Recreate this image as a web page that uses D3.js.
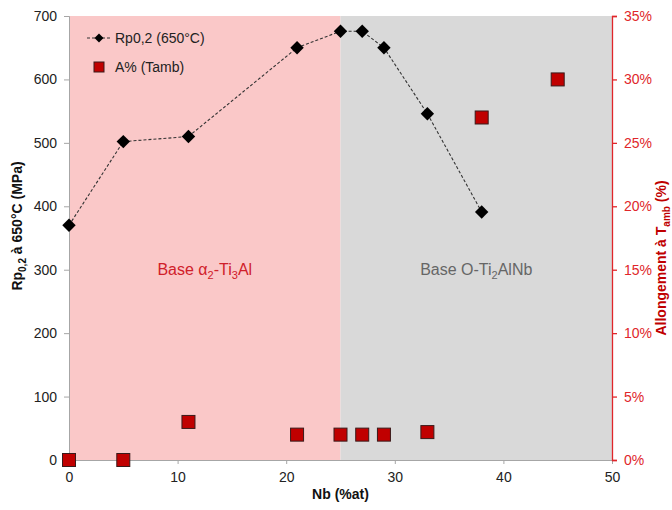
<!DOCTYPE html>
<html><head><meta charset="utf-8">
<script src="https://cdn.jsdelivr.net/npm/d3@7"></script>
<style>body{margin:0;background:#fff;font-family:"Liberation Sans",Arial,sans-serif}</style>
</head><body><svg id="c" width="672" height="510"></svg>
<script>
const rpNb = [0, 5, 11, 21, 25, 27, 29, 33, 38];
const rpVal = [370, 502, 510, 650, 676, 676, 650, 546, 391];
const aNb = [0, 5, 11, 21, 25, 27, 29, 33, 38, 45];
const aVal = [0, 0, 3, 2, 2, 2, 2, 2.2, 27, 30];
const xTicks = [0, 10, 20, 30, 40, 50];
const yLeftTicks = [0, 100, 200, 300, 400, 500, 600, 700];
const yRightTicks = [0, 5, 10, 15, 20, 25, 30, 35];
const regions = [{from: 0, to: 25, color: "#FAC8C8"}, {from: 25, to: 50, color: "#D9D9D9"}];

const svg = d3.select("#c");
const L = 69, R = 612, T = 16, B = 460;
const x = d3.scaleLinear().domain([0, 50]).range([L, R]);
const yL = d3.scaleLinear().domain([0, 700]).range([B, T]);
const yR = d3.scaleLinear().domain([0, 35]).range([B, T]);

svg.selectAll("rect.reg").data(regions).enter().append("rect")
  .attr("x", d => x(d.from)).attr("width", d => x(d.to) - x(d.from))
  .attr("y", T).attr("height", B - T).attr("fill", d => d.color);

const fs = "14px";
const ff = "Liberation Sans, Arial, sans-serif";
const gx = svg.append("g").attr("transform", `translate(0,${B})`)
  .call(d3.axisBottom(x).tickValues(xTicks).tickSize(4).tickPadding(8));
gx.select(".domain").attr("stroke", "#a6a6a6");
gx.selectAll(".tick line").attr("stroke", "#a6a6a6");
gx.selectAll("text").attr("font-size", fs).attr("fill", "#222").attr("font-family", ff);

const gl = svg.append("g").attr("transform", `translate(${L},0)`)
  .call(d3.axisLeft(yL).tickValues(yLeftTicks).tickSize(5).tickPadding(7));
gl.select(".domain").attr("stroke", "#a6a6a6");
gl.selectAll(".tick line").attr("stroke", "#a6a6a6");
gl.selectAll("text").attr("font-size", fs).attr("fill", "#222").attr("font-family", ff);

const gr = svg.append("g").attr("transform", `translate(${R},0)`)
  .call(d3.axisRight(yR).tickValues(yRightTicks).tickSize(5).tickPadding(7).tickFormat(d => d + "%"));
gr.select(".domain").attr("stroke", "#E0262A").attr("stroke-width", 1.3);
gr.selectAll(".tick line").attr("stroke", "#E0262A").attr("stroke-width", 1.3);
gr.selectAll("text").attr("font-size", fs).attr("fill", "#E0262A").attr("font-family", ff);

// region labels
const t1 = svg.append("text").attr("x", x(12.5)).attr("y", 275).attr("text-anchor", "middle")
  .attr("font-size", "16px").attr("fill", "#D0202A");
t1.append("tspan").text("Base α");
t1.append("tspan").attr("font-size", "11px").attr("dy", 4).text("2");
t1.append("tspan").attr("dy", -4).text("-Ti");
t1.append("tspan").attr("font-size", "11px").attr("dy", 4).text("3");
t1.append("tspan").attr("dy", -4).text("Al");

const t2 = svg.append("text").attr("x", x(37.5)).attr("y", 275).attr("text-anchor", "middle")
  .attr("font-size", "16px").attr("fill", "#666");
t2.append("tspan").text("Base O-Ti");
t2.append("tspan").attr("font-size", "11px").attr("dy", 4).text("2");
t2.append("tspan").attr("dy", -4).text("AlNb");

// axis titles
const tl = svg.append("text").attr("transform", `translate(22,226) rotate(-90)`)
  .attr("text-anchor", "middle").attr("font-size", "14px").attr("font-weight", "bold").attr("fill", "#111");
tl.append("tspan").text("Rp");
tl.append("tspan").attr("font-size", "10px").attr("dy", 4).text("0,2");
tl.append("tspan").attr("dy", -4).text(" à 650°C (MPa)");

const tr = svg.append("text").attr("transform", `translate(666,258) rotate(-90)`)
  .attr("text-anchor", "middle").attr("font-size", "14px").attr("font-weight", "bold").attr("fill", "#C00000");
tr.append("tspan").text("Allongement à T");
tr.append("tspan").attr("font-size", "10px").attr("dy", 4).text("amb");
tr.append("tspan").attr("dy", -4).text(" (%)");

svg.append("text").attr("x", x(25)).attr("y", 499).attr("text-anchor", "middle")
  .attr("font-size", "14px").attr("font-weight", "bold").attr("fill", "#111").text("Nb (%at)");

// Rp line
const rp = rpNb.map((n, i) => ({n, v: rpVal[i]}));
svg.append("path").datum(rp)
  .attr("d", d3.line().x(d => x(d.n)).y(d => yL(d.v)))
  .attr("fill", "none").attr("stroke", "#333").attr("stroke-width", 1.1).attr("stroke-dasharray", "3,2");
svg.selectAll("path.dia").data(rp).enter().append("path")
  .attr("transform", d => `translate(${x(d.n)},${yL(d.v)}) rotate(45)`)
  .attr("d", d3.symbol().type(d3.symbolSquare).size(90)).attr("fill", "#000");

// A% squares
const a = aNb.map((n, i) => ({n, v: aVal[i]}));
svg.selectAll("rect.sq").data(a).enter().append("rect")
  .attr("x", d => x(d.n) - 6.5).attr("y", d => yR(d.v) - 6.5).attr("width", 13).attr("height", 13)
  .attr("fill", "#C00000").attr("stroke", "#3a1a1a").attr("stroke-width", 1);

// legend
const lg = svg.append("g");
lg.append("line").attr("x1", 87).attr("x2", 110).attr("y1", 38).attr("y2", 38)
  .attr("stroke", "#333").attr("stroke-dasharray", "3,2");
lg.append("path").attr("transform", "translate(99,38) rotate(45)")
  .attr("d", d3.symbol().type(d3.symbolSquare).size(40)).attr("fill", "#000");
lg.append("text").attr("x", 115).attr("y", 43).attr("font-size", "14px").attr("fill", "#222").attr("font-family", ff).text("Rp0,2 (650°C)");
lg.append("rect").attr("x", 94).attr("y", 62).attr("width", 10).attr("height", 10)
  .attr("fill", "#C00000").attr("stroke", "#3a1a1a");
lg.append("text").attr("x", 115).attr("y", 72).attr("font-size", "14px").attr("fill", "#222").attr("font-family", ff).text("A% (Tamb)");
</script></body></html>
